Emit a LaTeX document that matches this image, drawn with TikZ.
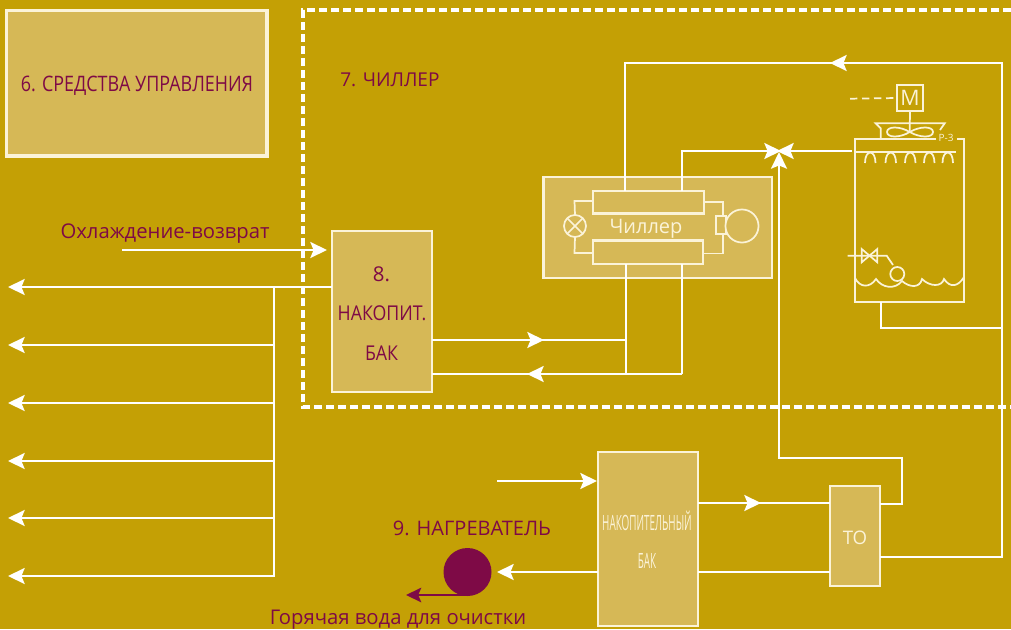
\documentclass[tikz,border=0pt]{standalone}
\usepackage{fontspec}
\usepackage{graphicx}
\setmainfont{Open Sans}
\usetikzlibrary{arrows.meta}
\definecolor{bgc}{HTML}{C4A005}
\definecolor{boxc}{HTML}{D6B856}
\definecolor{wine}{HTML}{7E0A46}
\definecolor{cream}{HTML}{FBF3D8}
\newcommand{\fs}[1]{\fontsize{#1}{#1}\selectfont}
\tikzset{
  x=0.75pt,y=-0.75pt,
  pipe/.style={draw=white,line width=1.5pt,line join=miter},
  arr/.style={pipe,-{Stealth[length=12.5pt,width=12pt,inset=2.4pt]}},
  panel/.style={draw=cream,line width=1.7pt,fill=boxc,inner sep=0pt,outer sep=0pt,anchor=north west},
  winelabel/.style={text=wine,inner sep=0pt},
  whitelabel/.style={text=cream,inner sep=0pt},
  detail/.style={draw=cream,line width=1.3pt},
}
\begin{document}
\begin{tikzpicture}
\useasboundingbox (0,0) rectangle (1011,629);
\fill[bgc] (0,0) rectangle (1011,629);

% dashed chiller frame
\coordinate (fa) at (1011,10);
\coordinate (fb) at (303,10);
\coordinate (fc) at (303,407);
\coordinate (fd) at (1011,407);
\draw[white,line width=2.4pt,dash pattern=on 6pt off 3pt] (fa) -- (fb) -- (fc) -- (fd);

% control box
\node[panel,line width=2.6pt,minimum width=195.4pt,minimum height=109pt] (ctrl) at (6.5,10.5) {};
\node[winelabel,font=\fs{16}] at (137,85.5) {\scalebox{0.84}[1]{6. СРЕДСТВА УПРАВЛЕНИЯ}};
\node[winelabel,font=\fs{14.3},anchor=west] (t7) at (340,80) {7. ЧИЛЛЕР};

% tank 8
\node[panel,minimum width=74.8pt,minimum height=120.75pt] (tank) at (332.3,230.7) {};
\node[winelabel,font=\fs{15.3}] at (381.5,274) {8.};
\node[winelabel,font=\fs{15.3}] at (382,313) {\scalebox{0.87}[1]{НАКОПИТ.}};
\node[winelabel,font=\fs{15.3}] at (381.5,353) {\scalebox{0.87}[1]{БАК}};

% chiller box
\node[panel,minimum width=171.2pt,minimum height=75.75pt] (chbox) at (543.5,177) {};
\node[panel,minimum width=83.25pt,minimum height=16.9pt] (upper) at (593,191) {};
\node[panel,minimum width=82.5pt,minimum height=17.6pt] (lower) at (593,240.5) {};
\node[whitelabel,font=\fs{15}] (chtext) at (646,229) {Чиллер};
\node[draw=cream,line width=1.3pt,circle,minimum size=16.5pt,inner sep=0pt,outer sep=0pt] (valve) at (575,226) {};
\draw[detail] (valve.north west) -- (valve.south east) (valve.north east) -- (valve.south west);
\node[draw=cream,line width=1.3pt,minimum width=8pt,minimum height=13.5pt,inner sep=0pt,outer sep=0pt] (motb) at (721,225) {};
\node[draw=cream,line width=1.3pt,circle,minimum size=24.8pt,inner sep=0pt,outer sep=0pt,fill=boxc] (mot) at (742,226) {};
\coordinate (u1) at (593,201); \coordinate (u2) at (574.5,201);
\coordinate (l1) at (593,253); \coordinate (l2) at (574.5,253);
\draw[detail] (u1) -- (u2) -- (valve.north);
\draw[detail] (valve.south) -- (l2) -- (l1);
\coordinate (r1) at (704,202); \coordinate (r2) at (723,202); \coordinate (r3) at (723,216);
\coordinate (r4) at (704,253.5); \coordinate (r5) at (723,253.5); \coordinate (r6) at (723,234);
\draw[detail] (r1) -- (r2) -- (r3);
\draw[detail] (r4) -- (r5) -- (r6);

% lower tank, TO
\node[panel,minimum width=75.45pt,minimum height=130.5pt] (btank) at (597.7,451.7) {};
\node[whitelabel,font=\fs{15.8}] at (647,521) {\scalebox{0.47}[1]{НАКОПИТЕЛЬНЫЙ}};
\node[whitelabel,font=\fs{15.8}] at (647,561) {\scalebox{0.47}[1]{БАК}};
\node[panel,minimum width=37.5pt,minimum height=75pt] (to) at (830,486) {};
\node[whitelabel,font=\fs{14}] at (855,537.5) {ТО};

% heater
\node[circle,fill=wine,minimum size=36pt,inner sep=0pt,outer sep=0pt] (heat) at (467.5,572) {};
\coordinate (hb) at (467,595); \coordinate (hend) at (406,595);
\draw[wine,line width=1.4pt,-{Stealth[length=11.5pt,width=11pt,inset=2.4pt]}] (hb) -- (hend);
\node[winelabel,font=\fs{15}] at (472,528) {9. НАГРЕВАТЕЛЬ};
\node[winelabel,font=\fs{15.2}] at (398,620) {Горячая вода для очистки};
\node[winelabel,font=\fs{15.2}] at (165,234) {Охлаждение-возврат};

% pipes: supply fan-out
\coordinate (ra) at (122,250); \coordinate (rb) at (327,250);
\draw[arr] (ra) -- (rb);
\coordinate (bus) at (273.5,287);
\coordinate (busb) at (273.5,576.6);
\draw[pipe] (bus) -- (busb);
\draw[arr] (332,287) -- (8,287);
\foreach \yy in {345,403,461,518,576}{
  \coordinate (bs) at (273.5,\yy);
  \coordinate (be) at (8,\yy);
  \draw[arr] (bs) -- (be);
}

% tank 8 to chiller
\coordinate (o1) at (432,340); \coordinate (o1m) at (544,340); \coordinate (o1e) at (626,340);
\coordinate (o2) at (432,374); \coordinate (o2m) at (527,374); \coordinate (o2e) at (682,374);
\coordinate (lo1) at (626,264); \coordinate (lo2) at (682,264); \coordinate (lo1b) at (626,374);
\draw[pipe] (o1) -- (o1e);
\draw[arr] (o1) -- (o1m);
\draw[pipe] (o2e) -- (o2);
\draw[arr] (o2e) -- (o2m);
\draw[pipe] (lo1) -- (lo1b);
\draw[pipe] (lo2) -- (o2e);

% top loop
\coordinate (t1) at (625,191); \coordinate (t2) at (625,63); \coordinate (t3) at (1002,63);
\coordinate (t4) at (1002,557); \coordinate (t5) at (880,557); \coordinate (t6) at (830,63);
\draw[pipe] (t1) -- (t2) -- (t3) -- (t4) -- (t5);
\draw[arr] (t3) -- (t6);

% three way
\coordinate (w1) at (682,191); \coordinate (w2) at (682,151); \coordinate (w3) at (781,151);
\draw[arr] (w1) -- (w2) -- (w3);
\coordinate (w4) at (852,151); \coordinate (w5) at (777,151);
\draw[arr] (w4) -- (w5);
\coordinate (w6) at (880,504); \coordinate (w7) at (902,504); \coordinate (w8) at (902,458);
\coordinate (w9) at (779,458); \coordinate (w10) at (779,152);
\draw[arr] (w6) -- (w7) -- (w8) -- (w9) -- (w10);

% bottom pipes
\coordinate (in1) at (497,481); \coordinate (in2) at (597,481);
\draw[arr] (in1) -- (in2);
\coordinate (ba) at (698,503); \coordinate (bb) at (761,503); \coordinate (bbe) at (830,503);
\draw[pipe] (ba) -- (bbe);
\draw[arr] (ba) -- (bb);
\coordinate (bc) at (830,572); \coordinate (bd) at (598,572); \coordinate (be2) at (698,572); \coordinate (bf) at (497,572);
\draw[pipe] (bc) -- (be2);
\draw[arr] (bd) -- (bf);

% cooling tower
\coordinate (c1) at (936,139); \coordinate (c2) at (855,139); \coordinate (c3) at (855,302);
\coordinate (c4) at (964,302); \coordinate (c5) at (964,139); \coordinate (c6) at (957,139);
\draw[detail] (c1) -- (c2) -- (c3) -- (c4) -- (c5) -- (c6);
\coordinate (c7) at (855,152); \coordinate (c8) at (956,152);
\draw[detail,line width=1.5pt] (c7) -- (c8);
\foreach \xx in {865,885.5,905,924,942.5}{
  \draw[detail] (\xx,163) .. controls (\xx,149) and (\xx+10.5,149) .. (\xx+10.5,163);
}
\node[whitelabel,font=\fs{7.5}] (p3) at (946,138) {Р-3};
\node[draw=cream,line width=1.3pt,minimum size=19pt,inner sep=0pt,outer sep=0pt,font=\fs{16},text=cream] (m) at (910,98) {М};
\coordinate (d1) at (850,98.7);
\draw[detail,dash pattern=on 5.5pt off 3.5pt] (d1) -- (m.west);
\coordinate (fanc) at (909.7,132);
\draw[detail] (m.south) -- (fanc);
\draw[detail] (880.7,139) -- (880.7,128.3) -- (875.7,123.3) -- (944.7,123.3) -- (940,130);
\draw[detail] (fanc) .. controls (900,126) and (887,126) .. (887,132) .. controls (887,138) and (900,138) .. (fanc)
  .. controls (920,126) and (933,126) .. (933,132) .. controls (933,138) and (920,138) .. (fanc);
\coordinate (v0) at (847.7,255.7); \coordinate (v3) at (886.7,255.7); \coordinate (v4) at (893,265);
\draw[detail] (v0) -- (v3) -- (v4);
\draw[detail] (861.7,249) -- (877.3,262.3) -- (877.3,249) -- (861.7,262.3) -- cycle;
\node[draw=cream,line width=1.3pt,circle,minimum size=10.5pt,inner sep=0pt,outer sep=0pt] (flt) at (897.3,274) {};
\draw[detail] (855,278) .. controls (860,288) and (870,288) .. (876,279)
  .. controls (882,288) and (895,290) .. (902,281)
  .. controls (910,288) and (920,288) .. (922,279)
  .. controls (930,287) and (942,287) .. (944,279)
  .. controls (950,288) and (958,287) .. (964,277);
\coordinate (p1) at (880.7,302); \coordinate (p2) at (880.7,328); \coordinate (p3b) at (1002,328);
\draw[pipe] (p1) -- (p2) -- (p3b);
\end{tikzpicture}
\end{document}
